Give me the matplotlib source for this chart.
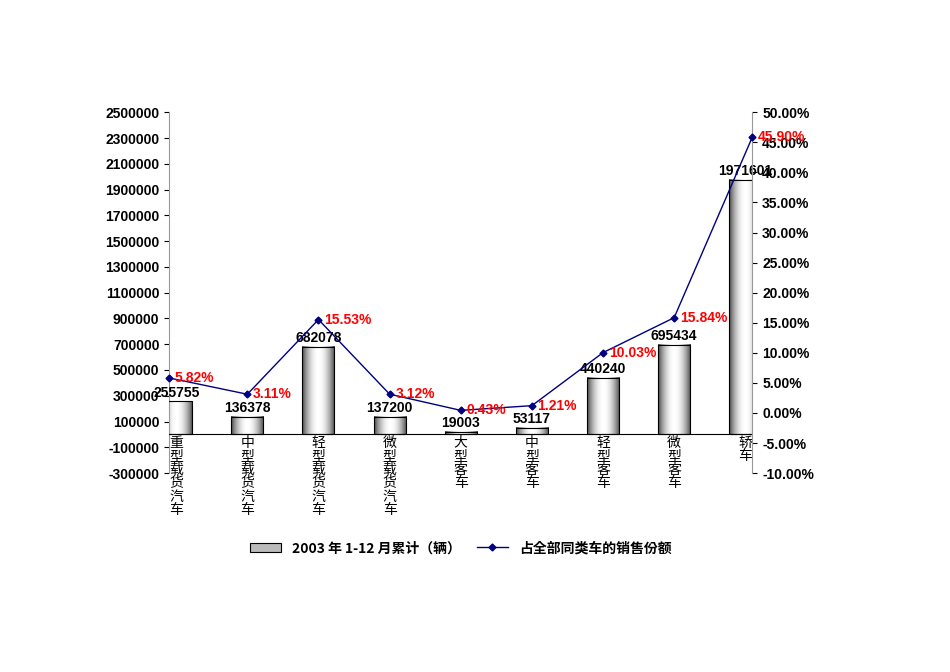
import matplotlib.pyplot as plt
import numpy as np
from matplotlib.lines import Line2D
from matplotlib.patches import Rectangle

plt.rcParams['font.family'] = 'sans-serif'
plt.rcParams['font.sans-serif'] = ['Noto Sans CJK JP', 'Noto Sans CJK SC', 'Noto Sans CJK TC',
                                   'Noto Sans CJK KR', 'DejaVu Sans']

# Data
categories = ['重型载货汽车', '中型载货汽车', '轻型载货汽车', '微型载货汽车',
              '大型客车', '中型客车', '轻型客车', '微型客车', '轿车']
sales = [255755, 136378, 682078, 137200, 19003, 53117, 440240, 695434, 1971601]
share = [5.82, 3.11, 15.53, 3.12, 0.43, 1.21, 10.03, 15.84, 45.90]

fig = plt.figure(figsize=(9.5, 6.72), dpi=100)
ax1 = fig.add_axes([0.178, 0.296, 0.614, 0.537])
ax2 = ax1.twinx()

x = np.arange(len(categories))
width = 0.45
grad = np.linspace(0, 1, 64)
grad = 0.25 + 0.75 * np.sin(np.pi * grad) ** 0.8
grad = np.tile(grad, (2, 1))
for xi, v in zip(x, sales):
    ax1.imshow(grad, cmap='gray', vmin=0, vmax=1, aspect='auto',
               extent=[xi - width / 2, xi + width / 2, 0, v], zorder=2)
    ax1.add_patch(Rectangle((xi - width / 2, 0), width, v, fill=False,
                            edgecolor='black', lw=0.8, zorder=3))
    ax1.text(xi, v + 15000, str(v), ha='center', va='bottom', fontsize=10,
             fontweight='bold', family='Liberation Sans', zorder=5)

ax1.set_xlim(-0.1, 8.1)
ax1.set_ylim(-300000, 2500000)
ax1.set_yticks(np.arange(-300000, 2500001, 200000))
ax1.set_yticklabels([str(t) for t in range(-300000, 2500001, 200000)],
                    fontsize=10, fontweight='bold', family='Liberation Sans')
ax1.set_xticks([])
for xi, c in zip(x, categories):
    ax1.text(xi, -10000, '\n'.join(c), ha='center', va='top', fontsize=10,
             linespacing=0.95, zorder=5)
ax1.axhline(0, color='black', lw=0.8, zorder=4)
for s in ['top', 'right', 'bottom']:
    ax1.spines[s].set_visible(False)
ax1.spines['left'].set_color('#999999')

# line points span the full axis: first/last at the edges
line_x = x.astype(float)
line_x[0], line_x[-1] = -0.1, 8.1
ax2.plot(line_x, np.array(share) / 100, color='#000080', marker='D', ms=3.5, lw=1,
         zorder=6, clip_on=False)
for xi, s in zip(line_x, share):
    ax2.text(xi + 0.08, s / 100, f'{s:.2f}%', color='#FF0000', fontsize=10,
             fontweight='bold', family='Liberation Sans', va='center', ha='left', zorder=6)
ax2.set_ylim(-0.10, 0.50)
ax2.set_yticks(np.arange(-0.10, 0.501, 0.05))
ax2.set_yticklabels([f'{t:.2f}%' for t in np.arange(-10, 50.1, 5)],
                    fontsize=10, fontweight='bold', family='Liberation Sans')
for s in ['top', 'left', 'bottom']:
    ax2.spines[s].set_visible(False)
ax2.spines['right'].set_color('#999999')

handles = [Rectangle((0, 0), 1, 1, facecolor='#BBBBBB', edgecolor='black', lw=0.8),
           Line2D([], [], color='#000080', marker='D', ms=3.5, lw=1)]
fig.legend(handles, ['2003 年 1-12 月累计（辆）', '占全部同类车的销售份额'],
           loc='center', bbox_to_anchor=(0.485, 0.184), ncol=2, frameon=False,
           prop={'size': 10, 'weight': 'bold'}, handlelength=2.2, columnspacing=1.2)

fig.savefig('out.png', dpi=100)
